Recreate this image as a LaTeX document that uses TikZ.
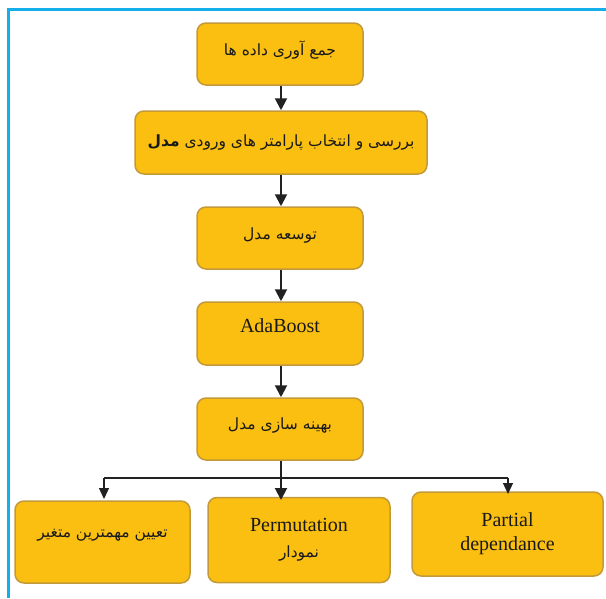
\documentclass[tikz,border=0pt]{standalone}
\usepackage{fontspec}
\setmainfont{Liberation Serif}
\newfontfamily\fa[Script=Arabic]{DejaVu Sans}
\TeXXeTstate=1
\usetikzlibrary{arrows.meta}
\definecolor{boxfill}{HTML}{FBBF12}
\definecolor{boxdraw}{HTML}{C39A3A}
\definecolor{frameblue}{HTML}{14AEEA}
\definecolor{arr}{HTML}{222222}
\tikzset{
  box/.style={draw=boxdraw, fill=boxfill, line width=1.5pt, rounded corners=9pt, inner sep=0pt, align=center, text=black!90},
  bigarrow/.style={draw=arr, line width=2pt, -{Triangle[length=12pt,width=12pt]}},
  smallarrow/.style={draw=arr, line width=1.2pt, -{Triangle[length=11pt,width=10pt]}},
  faT/.style={font=\fa\fontsize{15.5}{18}\selectfont},
  enT/.style={font=\fontsize{20}{24}\selectfont},
}
\begin{document}
\begin{tikzpicture}[x=1pt,y=-1pt]
\useasboundingbox (0,0) rectangle (606,598);
\draw[frameblue, line width=3pt] (606,9.5) -- (8,9.5) -- (8,598);
\node[box, faT, minimum width=166pt, minimum height=62pt] (b1) at (280,54) {\raisebox{12pt}{\beginR جمع آوری داده ها\endR}};
\node[box, faT, minimum width=292pt, minimum height=63pt] (b2) at (281,142.5) {\raisebox{3pt}{\beginR بررسی و انتخاب پارامتر های ورودی \textbf{مدل}\endR}};
\node[box, faT, minimum width=166pt, minimum height=62pt] (b3) at (280,238) {\raisebox{8pt}{\beginR توسعه مدل\endR}};
\node[box, enT, minimum width=166pt, minimum height=63pt] (b4) at (280,333.5) {\raisebox{16pt}{AdaBoost}};
\node[box, faT, minimum width=166pt, minimum height=62pt] (b5) at (280,429) {\raisebox{10pt}{\beginR بهینه سازی مدل\endR}};
\node[box, faT, minimum width=175pt, minimum height=82pt] (b6) at (102.5,542) {\raisebox{17pt}{\beginR تعیین مهمترین متغیر\endR}};
\node[box, enT, minimum width=182pt, minimum height=85pt] (b7) at (299,540) {Permutation\\[2pt]{\fa\fontsize{15.5}{18}\selectfont\beginR نمودار\endR}};
\node[box, enT, minimum width=191pt, minimum height=84pt] (b8) at (507.5,534) {\raisebox{3pt}{\begin{tabular}{@{}c@{}}Partial\\dependance\end{tabular}}};
\draw[bigarrow] (b1.south -| 281,0) -- (b2.north -| 281,0);
\draw[bigarrow] (b2.south -| 281,0) -- (b3.north -| 281,0);
\draw[bigarrow] (b3.south -| 281,0) -- (b4.north -| 281,0);
\draw[bigarrow] (b4.south -| 281,0) -- (b5.north -| 281,0);
\coordinate (hl) at (104,478);
\coordinate (hr) at (508,478);
\coordinate (tl) at (104,499);
\coordinate (tr) at (508,494);
\coordinate (tm) at (281,500);
\draw[bigarrow] (b5.south -| 281,0) -- (tm);
\draw[draw=arr, line width=1.2pt] (hl) -- (hr);
\draw[smallarrow] (hl) -- (tl);
\draw[smallarrow] (hr) -- (tr);
\end{tikzpicture}
\end{document}
